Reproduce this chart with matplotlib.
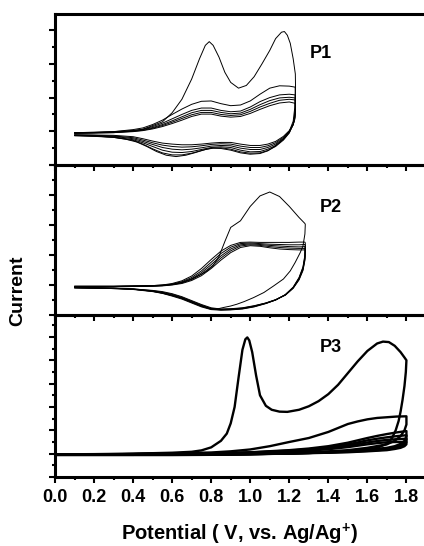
import matplotlib
matplotlib.use("Agg")
import matplotlib.pyplot as plt
from matplotlib.ticker import MultipleLocator, NullFormatter

plt.rcParams['font.family'] = ['Liberation Sans', 'DejaVu Sans']
plt.rcParams['font.weight'] = 'bold'
plt.rcParams['mathtext.fontset'] = 'custom'
plt.rcParams['mathtext.rm'] = 'Liberation Sans:bold'
plt.rcParams['mathtext.bf'] = 'Liberation Sans:bold'
plt.rcParams['mathtext.default'] = 'bf'

# ---------------- P1 ----------------
p1_c1_fx = [0.1, 0.2, 0.3, 0.4, 0.45, 0.5, 0.55, 0.6, 0.65, 0.7, 0.74, 0.77, 0.79, 0.81, 0.84,
            0.87, 0.9, 0.94, 0.98, 1.02, 1.06, 1.1, 1.13, 1.16, 1.175, 1.19, 1.205, 1.22, 1.231]
p1_c1_fy = [0.96, 0.97, 0.99, 1.02, 1.06, 1.17, 1.28, 1.55, 1.95, 2.55, 3.15, 3.55, 3.66, 3.55, 3.2,
            2.75, 2.45, 2.28, 2.36, 2.62, 3.0, 3.4, 3.75, 3.94, 3.96, 3.85, 3.61, 3.15, 2.7]
p1_c1_rx = [1.232, 1.228, 1.22, 1.2, 1.17, 1.13, 1.09, 1.05, 1.0, 0.95, 0.9, 0.85, 0.81, 0.77,
            0.72, 0.67, 0.62, 0.57, 0.52, 0.47, 0.42, 0.36, 0.3, 0.2, 0.1]
p1_c1_ry = [2.3, 1.7, 1.3, 1.0, 0.78, 0.57, 0.42, 0.34, 0.32, 0.36, 0.44, 0.49, 0.5, 0.46,
            0.37, 0.29, 0.25, 0.29, 0.4, 0.55, 0.68, 0.77, 0.82, 0.85, 0.87]

p1_fx = [0.1, 0.2, 0.3, 0.4, 0.45, 0.5, 0.55, 0.6, 0.65, 0.7, 0.75, 0.8, 0.85, 0.9, 0.95,
         1.0, 1.05, 1.1, 1.15, 1.2, 1.23]
p1_c2_fy = [0.96, 0.97, 0.99, 1.05, 1.1, 1.2, 1.33, 1.5, 1.66, 1.8, 1.89, 1.9, 1.82, 1.76, 1.78,
            1.9, 2.1, 2.28, 2.35, 2.34, 2.31]
p1_c3_fy = [0.95, 0.96, 0.98, 1.02, 1.06, 1.14, 1.24, 1.37, 1.5, 1.62, 1.69, 1.69, 1.62, 1.58, 1.6,
            1.72, 1.88, 2.0, 2.08, 2.1, 2.08]
p1_c4_fy = [0.95, 0.96, 0.97, 1.01, 1.05, 1.11, 1.2, 1.31, 1.43, 1.55, 1.62, 1.62, 1.56, 1.52, 1.54,
            1.65, 1.79, 1.91, 1.99, 2.01, 1.99]
p1_c5_fy = [0.94, 0.95, 0.96, 1.0, 1.03, 1.09, 1.17, 1.27, 1.38, 1.49, 1.56, 1.56, 1.5, 1.47, 1.49,
            1.59, 1.72, 1.83, 1.92, 1.95, 1.93]
p1_c6_fy = [0.94, 0.95, 0.96, 0.99, 1.02, 1.07, 1.14, 1.23, 1.33, 1.44, 1.51, 1.51, 1.45, 1.42, 1.44,
            1.53, 1.65, 1.76, 1.84, 1.87, 1.83]

p1_rx = [1.232, 1.228, 1.22, 1.2, 1.17, 1.13, 1.09, 1.05, 1.0, 0.95, 0.9, 0.85, 0.8, 0.75,
         0.7, 0.65, 0.6, 0.55, 0.5, 0.45, 0.4, 0.3, 0.2, 0.1]
p1_c2_ry = [1.9, 1.48, 1.22, 0.95, 0.74, 0.55, 0.43, 0.36, 0.35, 0.39, 0.47, 0.51, 0.5, 0.43,
            0.35, 0.3, 0.3, 0.36, 0.48, 0.62, 0.73, 0.82, 0.86, 0.87]
p1_c3_ry = [1.75, 1.42, 1.2, 0.96, 0.76, 0.58, 0.47, 0.4, 0.39, 0.44, 0.52, 0.54, 0.52, 0.46,
            0.4, 0.37, 0.38, 0.44, 0.55, 0.66, 0.75, 0.83, 0.86, 0.88]
p1_c4_ry = [1.7, 1.4, 1.2, 0.98, 0.79, 0.62, 0.52, 0.46, 0.46, 0.5, 0.57, 0.58, 0.56, 0.51,
            0.47, 0.45, 0.47, 0.52, 0.61, 0.7, 0.78, 0.85, 0.87, 0.88]
p1_c5_ry = [1.65, 1.38, 1.2, 1.0, 0.82, 0.66, 0.57, 0.52, 0.52, 0.56, 0.62, 0.63, 0.61, 0.57,
            0.54, 0.53, 0.55, 0.59, 0.66, 0.74, 0.81, 0.86, 0.88, 0.89]
p1_c6_ry = [1.6, 1.35, 1.2, 1.02, 0.85, 0.7, 0.62, 0.58, 0.58, 0.62, 0.67, 0.67, 0.65, 0.62,
            0.6, 0.6, 0.62, 0.65, 0.71, 0.78, 0.84, 0.88, 0.89, 0.9]

# ---------------- P2 ----------------
p2_c1_fx = [0.1, 0.3, 0.5, 0.6, 0.65, 0.7, 0.75, 0.78, 0.81, 0.84, 0.87, 0.9, 0.95, 1.0, 1.05,
            1.1, 1.15, 1.2, 1.25, 1.28]
p2_c1_fy = [0.96, 0.96, 0.98, 1.02, 1.08, 1.2, 1.36, 1.47, 1.65, 1.95, 2.45, 2.92, 3.14, 3.62, 3.97,
            4.1, 3.95, 3.62, 3.25, 3.05]
p2_c1_rx = [1.282, 1.28, 1.27, 1.256, 1.23, 1.205, 1.17, 1.12, 1.07, 1.017, 0.97, 0.932, 0.9,
            0.863, 0.83, 0.8, 0.75, 0.7, 0.65, 0.6, 0.55, 0.5, 0.4, 0.3, 0.2, 0.1]
p2_c1_ry = [3.02, 2.7, 2.3, 2.08, 1.75, 1.47, 1.2, 0.97, 0.75, 0.58, 0.45, 0.36, 0.3,
            0.25, 0.2, 0.19, 0.3, 0.43, 0.56, 0.65, 0.73, 0.79, 0.86, 0.89, 0.9, 0.91]

p2_fx = [0.1, 0.3, 0.5, 0.55, 0.6, 0.65, 0.7, 0.75, 0.8, 0.85, 0.9, 0.95, 1.0, 1.05, 1.1,
         1.15, 1.2, 1.25, 1.28]
p2_c2_fy = [0.96, 0.96, 0.98, 1.0, 1.05, 1.14, 1.3, 1.55, 1.85, 2.13, 2.32, 2.42, 2.43, 2.42, 2.42,
            2.42, 2.42, 2.43, 2.43]
p2_c3_fy = [0.95, 0.95, 0.97, 0.99, 1.03, 1.11, 1.25, 1.47, 1.76, 2.05, 2.26, 2.38, 2.4, 2.38, 2.36,
            2.35, 2.34, 2.34, 2.35]
p2_c4_fy = [0.95, 0.95, 0.97, 0.98, 1.02, 1.09, 1.21, 1.41, 1.68, 1.97, 2.2, 2.34, 2.37, 2.35, 2.32,
            2.3, 2.28, 2.27, 2.28]
p2_c5_fy = [0.94, 0.94, 0.96, 0.98, 1.01, 1.07, 1.18, 1.36, 1.61, 1.9, 2.14, 2.3, 2.34, 2.32, 2.28,
            2.25, 2.23, 2.22, 2.22]
p2_c6_fy = [0.94, 0.94, 0.96, 0.97, 1.0, 1.05, 1.15, 1.31, 1.55, 1.83, 2.08, 2.25, 2.31, 2.29, 2.24,
            2.2, 2.18, 2.17, 2.17]

p2_rx = [1.282, 1.28, 1.27, 1.25, 1.22, 1.18, 1.13, 1.08, 1.02, 0.96, 0.9, 0.85, 0.8, 0.75,
         0.7, 0.65, 0.6, 0.55, 0.5, 0.4, 0.3, 0.2, 0.1]
p2_c2_ry = [2.4, 2.0, 1.6, 1.25, 0.93, 0.68, 0.5, 0.38, 0.27, 0.2, 0.17, 0.16, 0.18, 0.27,
            0.4, 0.53, 0.63, 0.72, 0.78, 0.85, 0.88, 0.9, 0.91]
p2_c3_ry = [2.33, 1.95, 1.57, 1.23, 0.92, 0.68, 0.5, 0.39, 0.28, 0.21, 0.18, 0.17, 0.2, 0.29,
            0.42, 0.55, 0.65, 0.73, 0.79, 0.86, 0.88, 0.9, 0.91]
p2_c4_ry = [2.27, 1.9, 1.54, 1.21, 0.91, 0.67, 0.5, 0.39, 0.29, 0.22, 0.19, 0.18, 0.21, 0.31,
            0.44, 0.57, 0.67, 0.75, 0.8, 0.86, 0.89, 0.9, 0.91]
p2_c5_ry = [2.21, 1.86, 1.51, 1.19, 0.9, 0.67, 0.51, 0.4, 0.3, 0.23, 0.2, 0.19, 0.22, 0.33,
            0.46, 0.59, 0.69, 0.76, 0.81, 0.87, 0.89, 0.9, 0.91]
p2_c6_ry = [2.16, 1.82, 1.48, 1.17, 0.89, 0.66, 0.51, 0.4, 0.31, 0.24, 0.21, 0.2, 0.24, 0.35,
            0.48, 0.61, 0.71, 0.78, 0.82, 0.87, 0.89, 0.9, 0.91]

# ---------------- P3 ----------------
p3_c1_fx = [0.0, 0.2, 0.4, 0.6, 0.7, 0.75, 0.8, 0.85, 0.88, 0.9, 0.92, 0.94, 0.96, 0.975, 0.985,
            0.995, 1.01, 1.03, 1.05, 1.08, 1.11, 1.15, 1.19, 1.25, 1.3, 1.35, 1.4, 1.45, 1.5,
            1.55, 1.6, 1.65, 1.68, 1.71, 1.74, 1.77, 1.79, 1.8]
p3_c1_fy = [0.97, 0.98, 1.0, 1.04, 1.08, 1.14, 1.27, 1.55, 1.86, 2.3, 3.0, 4.25, 5.45, 5.9, 5.98,
            5.85, 5.35, 4.35, 3.5, 3.05, 2.88, 2.8, 2.79, 2.88, 3.03, 3.25, 3.55, 3.95, 4.45,
            4.95, 5.4, 5.72, 5.8, 5.78, 5.62, 5.35, 5.12, 5.0]
p3_c1_rx = [1.8, 1.797, 1.79, 1.78, 1.77, 1.76, 1.745, 1.725, 1.7, 1.65, 1.6, 1.5, 1.4, 1.3,
            1.2, 1.1, 1.0, 0.8, 0.6, 0.4, 0.2, 0.0]
p3_c1_ry = [5.0, 4.5, 3.9, 3.3, 2.8, 2.4, 2.0, 1.65, 1.42, 1.25, 1.18, 1.1, 1.06, 1.03,
            1.01, 0.99, 0.97, 0.95, 0.94, 0.94, 0.94, 0.94]

p3_c2_fx = [0.0, 0.4, 0.8, 0.9, 1.0, 1.1, 1.2, 1.3, 1.4, 1.45, 1.5, 1.55, 1.6, 1.65, 1.7, 1.75, 1.8]
p3_c2_fy = [0.96, 0.98, 1.05, 1.1, 1.18, 1.32, 1.5, 1.67, 1.93, 2.1, 2.27, 2.38, 2.47, 2.53,
            2.56, 2.59, 2.6]
p3_c2_rx = [1.8, 1.8, 1.79, 1.77, 1.74, 1.7, 1.6, 1.5, 1.4, 1.3, 1.2, 1.0, 0.8, 0.4, 0.0]
p3_c2_ry = [2.6, 2.25, 2.0, 1.75, 1.55, 1.4, 1.25, 1.15, 1.1, 1.06, 1.03, 0.99, 0.96, 0.95, 0.95]

p3_fx = [0.0, 0.8, 1.0, 1.2, 1.3, 1.4, 1.5, 1.55, 1.6, 1.65, 1.7, 1.75, 1.8]
p3_c3_fy = [0.96, 1.01, 1.06, 1.15, 1.22, 1.32, 1.47, 1.57, 1.67, 1.76, 1.84, 1.91, 1.97]
p3_c4_fy = [0.96, 1.0, 1.05, 1.13, 1.19, 1.27, 1.4, 1.48, 1.57, 1.64, 1.7, 1.75, 1.79]
p3_c5_fy = [0.96, 1.0, 1.04, 1.11, 1.16, 1.23, 1.34, 1.41, 1.48, 1.54, 1.59, 1.62, 1.64]
p3_c6_fy = [0.96, 1.0, 1.03, 1.09, 1.13, 1.19, 1.28, 1.34, 1.4, 1.45, 1.49, 1.5, 1.5]

p3_rx = [1.8, 1.79, 1.77, 1.74, 1.7, 1.6, 1.5, 1.4, 1.3, 1.2, 1.0, 0.8, 0.4, 0.0]
p3_c3_ry = [1.75, 1.55, 1.42, 1.32, 1.25, 1.17, 1.11, 1.07, 1.04, 1.02, 0.99, 0.96, 0.95, 0.95]
p3_c4_ry = [1.6, 1.45, 1.35, 1.27, 1.21, 1.14, 1.09, 1.06, 1.03, 1.01, 0.98, 0.96, 0.95, 0.95]
p3_c5_ry = [1.5, 1.38, 1.3, 1.23, 1.18, 1.12, 1.08, 1.05, 1.03, 1.01, 0.98, 0.96, 0.95, 0.95]
p3_c6_ry = [1.4, 1.32, 1.25, 1.2, 1.15, 1.1, 1.06, 1.04, 1.02, 1.0, 0.98, 0.96, 0.95, 0.95]

xticks = [0.0, 0.2, 0.4, 0.6, 0.8, 1.0, 1.2, 1.4, 1.6, 1.8]
xticklabels = ['0.0', '0.2', '0.4', '0.6', '0.8', '1.0', '1.2', '1.4', '1.6', '1.8']


def loop(ax, fx, fy, rx, ry, lw):
    ax.plot(list(fx) + list(rx), list(fy) + list(ry), color='black', lw=lw,
            solid_joinstyle='round', solid_capstyle='round')


def style(ax, ymax, label, lx, ly, bottom=False):
    ax.set_xlim(0, 1.89)
    ax.set_ylim(0, ymax)
    ax.patch.set_visible(False)
    ax.spines['right'].set_visible(False)
    for s in ('left', 'top', 'bottom'):
        ax.spines[s].set_linewidth(2.2)
    ax.xaxis.set_major_locator(MultipleLocator(0.2))
    ax.xaxis.set_minor_locator(MultipleLocator(0.1))
    ax.yaxis.set_major_locator(MultipleLocator(1))
    ax.yaxis.set_minor_locator(MultipleLocator(0.5))
    ax.tick_params(which='major', direction='out', length=4.5, width=1.5)
    ax.tick_params(which='minor', direction='out', length=2.5, width=1.5)
    ax.tick_params(axis='y', labelleft=False)
    if bottom:
        ax.set_xticks(xticks)
        ax.set_xticklabels(xticklabels, fontsize=13, fontweight='bold')
        ax.tick_params(axis='x', pad=4)
    else:
        ax.xaxis.set_major_formatter(NullFormatter())
    ax.text(lx, ly, label, fontsize=13, fontweight='bold', ha='center', va='center')


fig = plt.figure(figsize=(4.24, 5.46), dpi=100)
ax1 = fig.add_axes([55 / 424, 1 - 165 / 546, 1 - 55 / 424, 151 / 546])
ax2 = fig.add_axes([55 / 424, 1 - 315 / 546, 1 - 55 / 424, 150 / 546])
ax3 = fig.add_axes([55 / 424, 1 - 477 / 546, 1 - 55 / 424, 162 / 546])

thin = 0.7
loop(ax1, p1_c1_fx, p1_c1_fy, p1_c1_rx, p1_c1_ry, thin)
for fy, ry in [(p1_c2_fy, p1_c2_ry), (p1_c3_fy, p1_c3_ry), (p1_c4_fy, p1_c4_ry),
               (p1_c5_fy, p1_c5_ry), (p1_c6_fy, p1_c6_ry)]:
    loop(ax1, p1_fx, fy, p1_rx, ry, thin)

loop(ax2, p2_c1_fx, p2_c1_fy, p2_c1_rx, p2_c1_ry, thin)
for fy, ry in [(p2_c2_fy, p2_c2_ry), (p2_c3_fy, p2_c3_ry), (p2_c4_fy, p2_c4_ry),
               (p2_c5_fy, p2_c5_ry), (p2_c6_fy, p2_c6_ry)]:
    loop(ax2, p2_fx, fy, p2_rx, ry, thin)

thick = 1.7
loop(ax3, p3_c1_fx, p3_c1_fy, p3_c1_rx, p3_c1_ry, thick)
loop(ax3, p3_c2_fx, p3_c2_fy, p3_c2_rx, p3_c2_ry, thick)
for fy, ry in [(p3_c3_fy, p3_c3_ry), (p3_c4_fy, p3_c4_ry), (p3_c5_fy, p3_c5_ry),
               (p3_c6_fy, p3_c6_ry)]:
    loop(ax3, p3_fx, fy, p3_rx, ry, thick)

style(ax1, 4.48, 'P1', 1.364, 3.32)
style(ax2, 5.0, 'P2', 1.415, 3.57)
style(ax3, 6.94, 'P3', 1.415, 5.53, bottom=True)

fig.text(0.041, 1 - 291 / 546, 'Current', rotation=90, ha='center', va='center',
         fontsize=14, fontweight='bold')
fig.text(0.564, 1 - 534 / 546, r'Potential ( V, vs. Ag/Ag$^{+}$)', ha='center', va='center',
         fontsize=14.5, fontweight='bold')

fig.savefig('out.png', dpi=100)
